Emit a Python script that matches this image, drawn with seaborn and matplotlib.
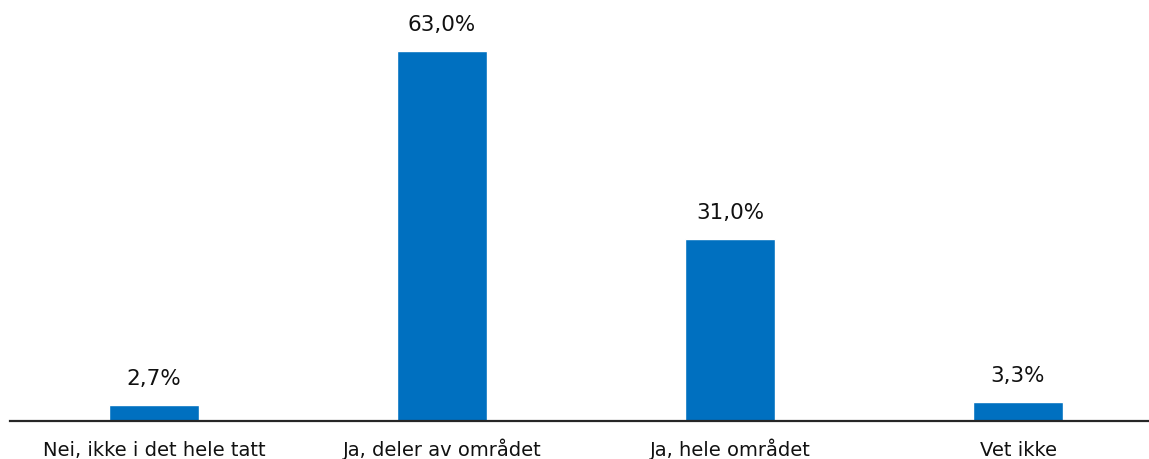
import matplotlib
matplotlib.use("Agg")
import matplotlib.pyplot as plt
import seaborn as sns
import pandas as pd

categories = ["Nei, ikke i det hele tatt", "Ja, deler av området", "Ja, hele området", "Vet ikke"]
values = [2.7, 63.0, 31.0, 3.3]
value_labels = ["2,7%", "63,0%", "31,0%", "3,3%"]

sns.set_theme(style="white")
plt.rcParams['font.family'] = ['DejaVu Sans']

W, H = 1149, 459
fig = plt.figure(figsize=(W / 100, H / 100), dpi=100)
ax = fig.add_axes([10 / W, (H - 421) / H, (W - 10) / W, 421 / H])

df = pd.DataFrame({"cat": categories, "val": values})
sns.barplot(data=df, x="cat", y="val", color="#0070C0", saturation=1, width=0.3125, ax=ax)

ax.set_xlim(-0.5, -0.5 + (W - 10) / 288)
ax.set_ylim(0, 421 / 5.873)
for i, (v, lab) in enumerate(zip(values, value_labels)):
    ax.annotate(lab, (i, v), xytext=(0, 20), textcoords="offset pixels",
                ha="center", va="baseline", fontsize=15.5, color="#111111")

for s in ["top", "right", "left"]:
    ax.spines[s].set_visible(False)
ax.spines["bottom"].set_color("#262626")
ax.spines["bottom"].set_linewidth(1.6)
ax.set_yticks([])
ax.set_xlabel("")
ax.set_ylabel("")
ax.tick_params(axis="x", length=0, pad=25, labelsize=14, colors="#111111")
for t in ax.get_xticklabels():
    t.set_verticalalignment("baseline")
ax.set_facecolor("none")

fig.savefig("out.png", dpi=100)
